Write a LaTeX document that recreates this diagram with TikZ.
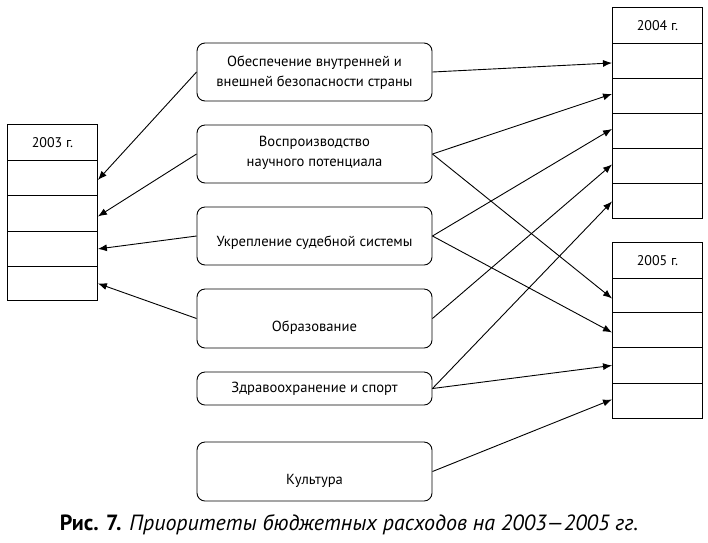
\documentclass[tikz,border=0pt]{standalone}
\usepackage{fontspec}
\setmainfont{PT Sans}
\usetikzlibrary{arrows.meta}
\begin{document}
\begin{tikzpicture}[x=1pt,y=-1pt,
  cell/.style={draw,line width=0.9pt,minimum width=90pt,inner sep=0pt,anchor=north west},
  midbox/.style={draw,line width=0.9pt,rounded corners=8pt,minimum width=235pt,inner sep=0pt},
  lbl/.style={font=\fontsize{14.6}{20}\selectfont,align=center,inner sep=0pt},
  hdr/.style={font=\fontsize{14}{16}\selectfont},
  arr/.style={line width=0.9pt,-{Latex[length=9pt,width=7pt]}}]
\useasboundingbox (0,0) rectangle (708,542);
% 2003 table
\node[cell,minimum height=36pt,hdr] (a0) at (7,124) {2003 г.};
\node[cell,minimum height=35pt] (a1) at (7,160) {};
\node[cell,minimum height=36pt] (a2) at (7,195) {};
\node[cell,minimum height=35pt] (a3) at (7,231) {};
\node[cell,minimum height=34pt] (a4) at (7,266) {};
% 2004 table
\node[cell,minimum height=36pt,hdr] (b0) at (612,7) {2004 г.};
\node[cell,minimum height=35pt] (b1) at (612,43) {};
\node[cell,minimum height=35pt] (b2) at (612,78) {};
\node[cell,minimum height=35pt] (b3) at (612,113) {};
\node[cell,minimum height=35pt] (b4) at (612,148) {};
\node[cell,minimum height=35pt] (b5) at (612,183) {};
% 2005 table
\node[cell,minimum height=36pt,hdr] (c0) at (612,242) {2005 г.};
\node[cell,minimum height=34pt] (c1) at (612,278) {};
\node[cell,minimum height=35pt] (c2) at (612,312) {};
\node[cell,minimum height=36pt] (c3) at (612,347) {};
\node[cell,minimum height=35pt] (c4) at (612,383) {};
% middle boxes
\node[midbox,minimum height=58pt] (m1) at (314.5,72) {};
\node[midbox,minimum height=58pt] (m2) at (314.5,154) {};
\node[midbox,minimum height=58pt] (m3) at (314.5,236) {};
\node[midbox,minimum height=59pt] (m4) at (314.5,318.5) {};
\node[midbox,minimum height=33pt] (m5) at (314.5,388.5) {};
\node[midbox,minimum height=59pt] (m6) at (314.5,471.5) {};
\node[lbl] (t1) at (314.5,73) {Обеспечение внутренней и\\внешней безопасности страны};
\node[lbl] (t2) at (314.5,153) {Воспроизводство\\научного потенциала};
\node[lbl] (t3) at (314.5,243) {Укрепление судебной системы};
\node[lbl] (t4) at (314.5,328) {Образование};
\node[lbl] (t5) at (314.5,389) {Здравоохранение и спорт};
\node[lbl] (t6) at (314.5,481) {Культура};
% caption
\node[inner sep=0pt,font=\fontsize{22}{26}\selectfont] (cap) at (349,525) {\textbf{Рис. 7.} \textit{Приоритеты бюджетных расходов на 2003—2005 гг.}};
% arrows to 2003
\draw[arr] (m1.west) -- ([yshift=-2pt]a1.east);
\draw[arr] (m2.west) -- ([yshift=-3pt]a2.east);
\draw[arr] (m3.west) -- (a3.east);
\draw[arr] (m4.west) -- (a4.east);
% arrows to 2004
\draw[arr] (m1.east) -- ([yshift=-2pt]b1.west);
\draw[arr] (m2.east) -- ([yshift=2pt]b2.west);
\draw[arr] (m3.east) -- ([yshift=2pt]b3.west);
\draw[arr] (m4.east) -- ([yshift=1.5pt]b4.west);
\draw[arr] (m5.east) -- ([yshift=-0.5pt]b5.west);
% arrows to 2005
\draw[arr] (m2.east) -- ([yshift=-3pt]c1.west);
\draw[arr] (m3.east) -- ([yshift=-2.5pt]c2.west);
\draw[arr] (m5.east) -- (c3.west);
\draw[arr] (m6.east) -- ([yshift=1.5pt]c4.west);
\end{tikzpicture}
\end{document}
